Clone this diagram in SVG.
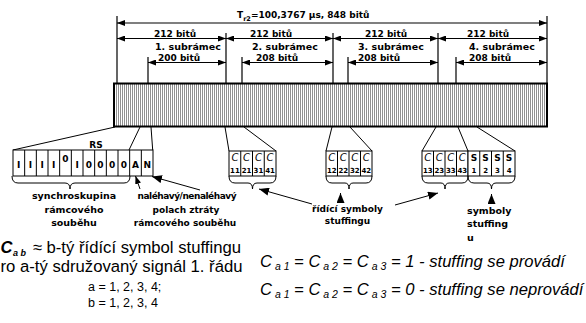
<svg xmlns="http://www.w3.org/2000/svg" width="586" height="323" viewBox="0 0 586 323">
<style>
.lbl{font-family:"DejaVu Sans",sans-serif;font-weight:bold;font-size:9px;fill:#000}
.big{font-size:9.5px}
.ln{stroke:#000;stroke-width:1;fill:none}
.dim{stroke:#000;stroke-width:1.2;fill:none}
.cell{fill:#fff;stroke:#000;stroke-width:1}
.ct{font-family:"DejaVu Sans",sans-serif;font-weight:bold;font-size:9px;text-anchor:middle}
.ci{font-family:"DejaVu Sans",sans-serif;font-style:italic;font-size:10px;text-anchor:middle}
.cn{font-family:"DejaVu Sans",sans-serif;font-weight:bold;font-size:7px;text-anchor:middle}
.ar{font-family:"Liberation Sans",Arial,sans-serif;fill:#000}
.it{font-style:italic;font-size:16.6px}
.mid{text-anchor:middle}
</style>
<defs>
<pattern id="st" width="2" height="10" patternUnits="userSpaceOnUse">
<rect width="2" height="10" fill="#fff"/>
<rect width="1" height="10" fill="#909090"/>
</pattern>
<marker id="ah" viewBox="0 0 8 6" refX="8" refY="3" markerWidth="8" markerHeight="6" markerUnits="userSpaceOnUse" orient="auto-start-reverse">
<path d="M0,0L8,3L0,6z" fill="#000"/>
</marker>
<marker id="ah2" viewBox="0 0 10 8" refX="10" refY="4" markerWidth="10" markerHeight="8" markerUnits="userSpaceOnUse" orient="auto">
<path d="M0,0L10,4L0,8z" fill="#000"/>
</marker>
</defs>

<g id="frame">
<rect x="114" y="83.5" width="433" height="43" fill="url(#st)" stroke="#000" stroke-width="2"/>
</g>

<g id="dimensions" class="dim">
<path d="M117,16V83M547,16V83M226,33V83M333,33V83M438,33V83M148,57V83M242,57V83M348,57V83M456,57V83"/>
<path d="M117,23H547" marker-start="url(#ah)" marker-end="url(#ah)"/>
<path d="M117,38.5H226" marker-start="url(#ah)" marker-end="url(#ah)"/>
<path d="M226,38.5H333" marker-start="url(#ah)" marker-end="url(#ah)"/>
<path d="M333,38.5H438" marker-start="url(#ah)" marker-end="url(#ah)"/>
<path d="M438,38.5H547" marker-start="url(#ah)" marker-end="url(#ah)"/>
<path d="M148,62.5H226" marker-start="url(#ah)" marker-end="url(#ah)"/>
<path d="M242,62.5H333" marker-start="url(#ah)" marker-end="url(#ah)"/>
<path d="M348,62.5H438" marker-start="url(#ah)" marker-end="url(#ah)"/>
<path d="M456,62.5H547" marker-start="url(#ah)" marker-end="url(#ah)"/>
</g>

<g id="dim-labels" class="lbl">
<text x="237" y="18">T<tspan font-size="6.5" dy="2.5">r2</tspan><tspan dy="-2.5">=100,3767 µs, 848 bitů</tspan></text>
<text x="154" y="37">212 bitů</text>
<text x="250" y="37">212 bitů</text>
<text x="365" y="37">212 bitů</text>
<text x="467" y="37">212 bitů</text>
<text class="big" x="155" y="49.5">1. subrámec</text>
<text class="big" x="252" y="49.5">2. subrámec</text>
<text class="big" x="358" y="49.5">3. subrámec</text>
<text class="big" x="469" y="49.5">4. subrámec</text>
<text x="158" y="60.5">200 bitů</text>
<text x="256" y="60.5">208 bitů</text>
<text x="358" y="60.5">208 bitů</text>
<text x="469" y="60.5">208 bitů</text>
</g>

<g id="connectors" class="ln">
<path d="M115,127L13,150M140,127L129,150M151,127L152.7,150"/>
<path d="M225,127L229,151M244,127L276,151"/>
<path d="M332,127L326,151M350,127L372,151"/>
<path d="M436,127L422,151M458,127L468,151M477,127L515,151"/>
<path d="M140,189L135.5,176" marker-end="url(#ah)"/>
<path d="M200,190L152,176.5" marker-end="url(#ah2)"/>
<path d="M312,204L259,189" marker-end="url(#ah2)"/>
<path d="M340.5,203V193" marker-end="url(#ah2)"/>
<path d="M395,205L438,193" marker-end="url(#ah2)"/>
<path d="M491.5,204V194" marker-end="url(#ah2)"/>
</g>

<g id="rs-cells">
<rect class="cell" x="13" y="150" width="140" height="26"/>
<path class="ln" d="M24.67,150V176M36.33,150V176M48,150V176M59.67,150V176M71.33,150V176M83,150V176M94.67,150V176M106.33,150V176M118,150V176M129.67,150V176M141.33,150V176"/>
<text class="lbl" x="96" y="148" text-anchor="middle">RS</text>
<text class="ct" y="168"><tspan x="18.8">I</tspan><tspan x="30.5">I</tspan><tspan x="42.2">I</tspan><tspan x="53.8">I</tspan><tspan x="65.5" dy="-6">0</tspan><tspan x="77.2" dy="6">I</tspan><tspan x="88.8">0</tspan><tspan x="100.5">0</tspan><tspan x="112.2">0</tspan><tspan x="123.8">0</tspan><tspan x="135.5">A</tspan><tspan x="147.2">N</tspan></text>
<path class="ln" d="M12,176Q12,183 18,183H65Q70,183 70,189Q70,183 75,183H124Q130,183 130,176"/>
</g>

<g id="c-group-1">
<rect class="cell" x="229" y="151" width="47" height="25"/>
<path class="ln" d="M240.75,151V176M252.5,151V176M264.25,151V176"/>
<text class="ci" y="161"><tspan x="234.9">C</tspan><tspan x="246.6">C</tspan><tspan x="258.4">C</tspan><tspan x="270.1">C</tspan></text>
<text class="cn" y="173"><tspan x="234.9">11</tspan><tspan x="246.6">21</tspan><tspan x="258.4">31</tspan><tspan x="270.1">41</tspan></text>
<path class="ln" d="M229,176Q229,183 235,183H248Q252.5,183 252.5,189Q252.5,183 257,183H270Q276,183 276,176"/>
</g>

<g id="c-group-2">
<rect class="cell" x="326" y="151" width="46" height="25"/>
<path class="ln" d="M337.5,151V176M349,151V176M360.5,151V176"/>
<text class="ci" y="161"><tspan x="331.75">C</tspan><tspan x="343.25">C</tspan><tspan x="354.75">C</tspan><tspan x="366.25">C</tspan></text>
<text class="cn" y="173"><tspan x="331.75">12</tspan><tspan x="343.25">22</tspan><tspan x="354.75">32</tspan><tspan x="366.25">42</tspan></text>
<path class="ln" d="M326,176Q326,183 332,183H345Q349,183 349,189Q349,183 353,183H366Q372,183 372,176"/>
</g>

<g id="c-group-3">
<rect class="cell" x="422" y="151" width="46" height="25"/>
<path class="ln" d="M433.5,151V176M445,151V176M456.5,151V176"/>
<text class="ci" y="161"><tspan x="427.75">C</tspan><tspan x="439.25">C</tspan><tspan x="450.75">C</tspan><tspan x="462.25">C</tspan></text>
<text class="cn" y="173"><tspan x="427.75">13</tspan><tspan x="439.25">23</tspan><tspan x="450.75">33</tspan><tspan x="462.25">43</tspan></text>
<path class="ln" d="M422,176Q422,183 428,183H441Q445,183 445,189Q445,183 449,183H462Q468,183 468,176"/>
</g>

<g id="s-group">
<rect class="cell" x="468" y="151" width="47" height="25"/>
<path class="ln" d="M479.75,151V176M491.5,151V176M503.25,151V176"/>
<text class="ct" y="161"><tspan x="473.9">S</tspan><tspan x="485.6">S</tspan><tspan x="497.4">S</tspan><tspan x="509.1">S</tspan></text>
<text class="cn" y="173"><tspan x="473.9">1</tspan><tspan x="485.6">2</tspan><tspan x="497.4">3</tspan><tspan x="509.1">4</tspan></text>
<path class="ln" d="M468,176Q468,183 474,183H487Q491.5,183 491.5,189Q491.5,183 496,183H509Q515,183 515,176"/>
</g>

<g id="label-sync" class="lbl big mid">
<text x="74" y="199">synchroskupina</text>
<text x="74" y="212.5">rámcového</text>
<text x="74" y="226">souběhu</text>
</g>

<g id="label-urgent" class="lbl mid">
<text x="187" y="199" textLength="99" lengthAdjust="spacing">naléhavý/nenaléhavý</text>
<text x="186" y="212.5">polach ztráty</text>
<text x="185" y="226">rámcového souběhu</text>
</g>

<g id="label-control" class="lbl mid">
<text x="347.5" y="211.5">řídící symboly</text>
<text x="347.5" y="223.5">stuffingu</text>
</g>

<g id="label-stuff" class="lbl big">
<text x="467" y="214">symboly</text>
<text x="467" y="227">stuffing</text>
<text x="467" y="241">u</text>
</g>

<g id="legend-left" class="ar">
<text x="0.5" y="253" font-size="16.5" font-weight="bold" font-style="italic">C</text>
<text x="13" y="256" font-size="9" font-weight="bold" font-style="italic">a b</text>
<text x="241" y="253" font-size="16.7" text-anchor="end">≈ b-tý řídící symbol stuffingu</text>
<text x="0.5" y="272" font-size="16.7" textLength="242" lengthAdjust="spacingAndGlyphs">ro a-tý sdružovaný signál 1. řádu</text>
<text x="88" y="291" font-size="12.5">a = 1, 2, 3, 4;</text>
<text x="88" y="307" font-size="12.5">b = 1, 2, 3, 4</text>
</g>

<g id="legend-right" class="ar it">
<text x="260" y="266.5">C<tspan font-size="10.5" dy="3"> a 1</tspan><tspan dy="-3"> = C</tspan><tspan font-size="10.5" dy="3"> a 2</tspan><tspan dy="-3"> = C</tspan><tspan font-size="10.5" dy="3"> a 3</tspan><tspan dy="-3"> = 1 - stuffing se provádí</tspan></text>
<text x="260" y="295">C<tspan font-size="10.5" dy="3"> a 1</tspan><tspan dy="-3"> = C</tspan><tspan font-size="10.5" dy="3"> a 2</tspan><tspan dy="-3"> = C</tspan><tspan font-size="10.5" dy="3"> a 3</tspan><tspan dy="-3"> = 0 - stuffing se neprovádí</tspan></text>
</g>
</svg>
